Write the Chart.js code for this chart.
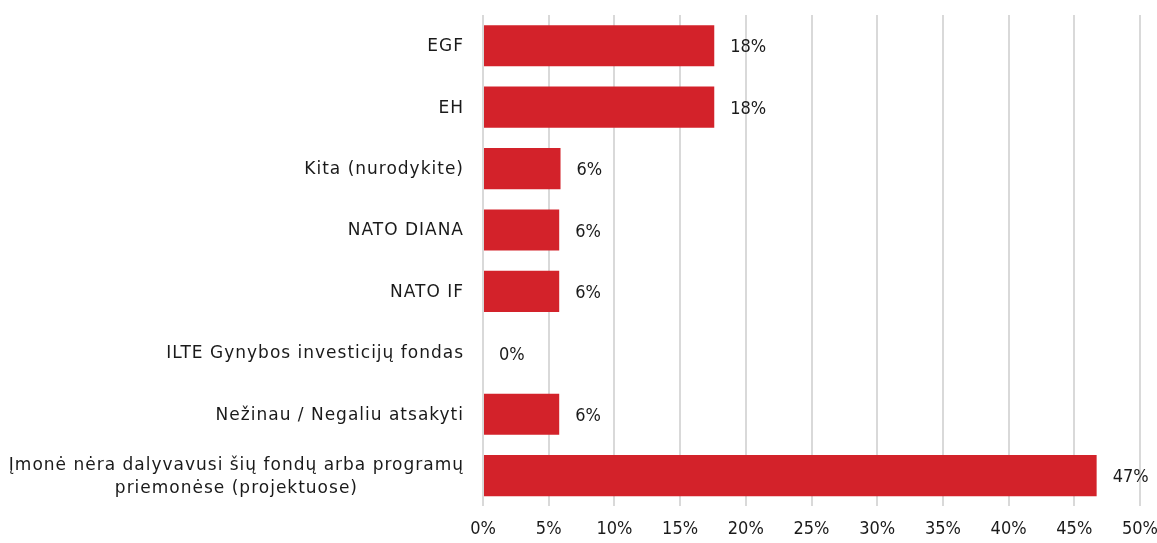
<!DOCTYPE html>
<html>
<head>
<meta charset="utf-8">
<script src="https://cdn.jsdelivr.net/npm/chart.js@4"></script>
<style>
  html, body { margin: 0; padding: 0; background: #fff; }
  #wrap { width: 1157px; height: 543px; }
</style>
</head>
<body>
<div id="wrap"><canvas id="myChart"></canvas></div>
<script>
const categories = [
  'EGF',
  'EH',
  'Kita (nurodykite)',
  'NATO DIANA',
  'NATO IF',
  'ILTE Gynybos investicijų fondas',
  'Nežinau / Negaliu atsakyti',
  ['Įmonė nėra dalyvavusi šių fondų arba programų', 'priemonėse (projektuose)']
];
const values = [17.6, 17.6, 5.9, 5.8, 5.8, 0, 5.8, 46.7];
const valueLabels = ['18%', '18%', '6%', '6%', '6%', '0%', '6%', '47%'];

const FONT = 'DejaVu Sans';
const NUM_FONT = 'DejaVu Sans Condensed';
const TEXT = '#1a1a1a';

// bar-end value labels
const barLabels = {
  id: 'barLabels',
  afterDatasetsDraw(chart) {
    const c = chart.ctx;
    const meta = chart.getDatasetMeta(0);
    c.save();
    c.font = '18px "' + NUM_FONT + '"';
    c.fillStyle = TEXT;
    c.textAlign = 'left';
    c.textBaseline = 'middle';
    meta.data.forEach((bar, i) => {
      c.fillText(valueLabels[i], bar.x + 16, bar.y + 2);
    });
    c.restore();
  }
};

// category labels, right aligned, wrapped lines centred on each other
const catLabels = {
  id: 'catLabels',
  afterDraw(chart) {
    const c = chart.ctx;
    const y = chart.scales.y;
    const right = chart.chartArea.left - 19;
    c.save();
    c.font = '17px "' + FONT + '"';
    c.letterSpacing = '1px';
    c.fillStyle = TEXT;
    c.textBaseline = 'middle';
    c.textAlign = 'center';
    categories.forEach((lab, i) => {
      const lines = Array.isArray(lab) ? lab : [lab];
      const py = y.getPixelForTick(i);
      const maxW = Math.max(...lines.map(l => c.measureText(l).width));
      const cx = right - maxW / 2;
      const lh = 23;
      lines.forEach((l, j) => {
        c.fillText(l, cx, py + 1 + (j - (lines.length - 1) / 2) * lh);
      });
    });
    c.restore();
  }
};

new Chart(document.getElementById('myChart'), {
  type: 'bar',
  data: {
    labels: categories,
    datasets: [{
      data: values,
      backgroundColor: '#d3222a',
      borderWidth: 0,
      categoryPercentage: 0.67,
      barPercentage: 1
    }]
  },
  options: {
    indexAxis: 'y',
    responsive: true,
    maintainAspectRatio: false,
    animation: false,
    layout: { padding: { top: 15, right: 17, bottom: -9, left: 0 } },
    plugins: {
      legend: { display: false },
      tooltip: { enabled: false }
    },
    scales: {
      x: {
        min: 0,
        max: 50,
        ticks: {
          stepSize: 5,
          padding: 12,
          color: TEXT,
          font: { family: NUM_FONT, size: 18 },
          callback: v => v + '%'
        },
        grid: { color: '#d9d9d9', lineWidth: 2, drawTicks: false },
        border: { display: false },
        afterFit(scale) { scale.paddingRight = 0; scale.paddingLeft = 0; }
      },
      y: {
        ticks: { display: false },
        grid: { display: false },
        border: { display: false },
        afterFit(scale) { scale.width = 483; }
      }
    }
  },
  plugins: [barLabels, catLabels]
});
</script>
</body>
</html>
